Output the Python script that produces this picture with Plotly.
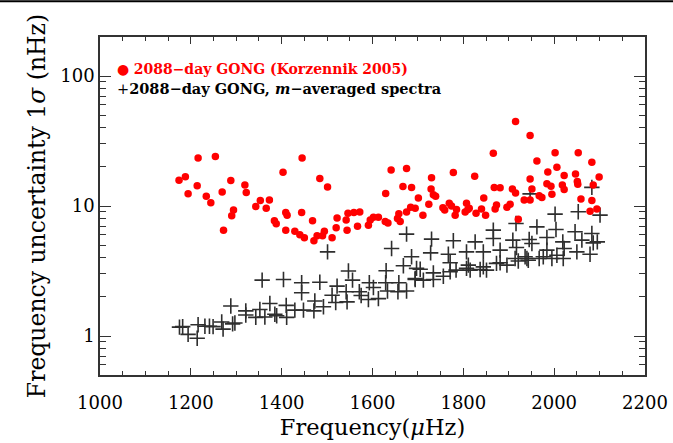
import plotly.graph_objects as go

# Red: 2088-day GONG (Korzennik 2005)
red_freq = [1174, 1188, 1194, 1216, 1214, 1234, 1244, 1254, 1269, 1272,
            1288, 1294, 1290, 1319, 1322, 1343, 1353, 1366, 1373, 1384,
            1388, 1403, 1409, 1412, 1409, 1429, 1440, 1450, 1445, 1444,
            1468, 1471, 1478, 1490, 1494, 1484, 1501, 1511, 1520, 1522,
            1544, 1542, 1546, 1559, 1572, 1567, 1591, 1595, 1602, 1613,
            1628, 1634, 1629, 1641, 1655, 1658, 1661, 1675, 1667, 1686,
            1675, 1684, 1694, 1701, 1915, 1947, 1866, 2002, 2053, 2083,
            1962, 1986, 2006, 2022, 2047, 2099, 1778, 1825, 1730, 1947,
            1729, 1734, 1739, 1724, 1711, 1755, 1759, 1769, 1774, 1785,
            1782, 1807, 1810, 1813, 1804, 1828, 1840, 1845, 1849, 1868,
            1881, 1870, 1873, 1896, 1903, 1908, 1915, 1934, 1947, 1951,
            1967, 1973, 1921, 1984, 1993, 1995, 2018, 2022, 2051, 2052,
            2086, 2059, 2083, 2079, 2094]
red_sigma = [15.8, 16.8, 12.4, 23.4, 14.3, 11.9, 10.6, 24.0, 12.8, 6.5,
             15.7, 9.3, 8.4, 14.5, 12.7, 9.9, 11.0, 9.6, 11.1, 7.7,
             7.3, 18.2, 8.9, 8.5, 6.5, 6.4, 6.0, 5.7, 23.4, 8.9,
             7.7, 5.4, 5.9, 5.9, 6.4, 16.3, 14.0, 5.7, 6.8, 8.1,
             6.5, 7.8, 8.8, 8.9, 9.0, 7.0, 7.1, 7.8, 8.2, 8.2,
             7.6, 7.4, 12.5, 18.9, 8.0, 8.7, 7.6, 19.4, 14.1, 13.9,
             9.0, 9.8, 9.6, 11.5, 44.7, 34.9, 25.5, 25.7, 25.7, 21.7,
             22.2, 18.3, 19.9, 17.2, 17.6, 16.7, 18.1, 16.9, 16.5, 16.1,
             13.5, 12.2, 11.9, 10.3, 8.5, 9.7, 9.3, 10.5, 10.0, 9.4,
             8.5, 10.5, 9.4, 9.6, 9.0, 8.8, 9.5, 11.5, 8.5, 13.9,
             13.8, 9.5, 10.2, 9.8, 10.3, 13.5, 12.6, 11.1, 11.1, 13.5,
             12.0, 11.6, 7.9, 14.8, 14.2, 12.3, 14.5, 13.4, 15.4, 14.7,
             14.5, 11.3, 11.0, 9.1, 9.5]

# Black: 2088-day GONG, m-averaged spectra
blk_freq = [1175, 1182, 1194, 1214, 1216, 1231, 1241, 1249, 1268, 1271,
            1288, 1292, 1297, 1321, 1321, 1343, 1352, 1357, 1363, 1374,
            1385, 1389, 1404, 1410, 1411, 1429, 1444, 1444, 1448, 1471,
            1473, 1484, 1492, 1501, 1511, 1519, 1522, 1542, 1544, 1547,
            1556, 1571, 1575, 1591, 1593, 1602, 1613, 1629, 1630, 1633,
            1642, 1656, 1658, 1668, 1675, 1675, 1686, 1697, 1694, 1730,
            1728, 1705, 1734, 1734, 1756, 1767, 1771, 1778, 1784, 1807,
            1811, 1815, 1826, 1837, 1844, 1851, 1866, 1866, 1873, 1881,
            1896, 1909, 1916, 1917, 1921, 1936, 1945, 1951, 1943, 1962,
            1967, 1984, 1984, 1995, 2002, 2004, 2019, 2022, 2020, 2046,
            2053, 2061, 2050, 2083, 2095, 2079, 2101, 2086, 1947, 2083,
            1694, 1712, 1771, 1807, 1844, 1881, 1914, 1940, 1976, 2006]
blk_sigma = [1.17, 1.18, 1.03, 0.96, 1.22, 1.19, 1.19, 1.18, 1.28, 1.13,
             1.70, 1.24, 1.26, 1.56, 1.45, 1.39, 1.60, 2.69, 1.40, 1.78,
             1.47, 1.43, 2.72, 1.72, 1.39, 1.58, 2.57, 2.15, 1.58, 1.56,
             1.86, 2.59, 1.68, 4.44, 2.06, 1.81, 2.42, 2.19, 1.83, 3.16,
             2.69, 2.19, 2.05, 1.91, 2.57, 2.36, 1.94, 2.57, 3.18, 2.22,
             4.71, 2.19, 2.57, 3.47, 2.22, 6.08, 4.07, 3.31, 2.72, 5.56,
             4.36, 3.26, 3.06, 2.72, 2.88, 4.26, 3.66, 5.40, 3.21, 4.44,
             3.51, 3.21, 5.30, 3.25, 4.44, 3.21, 6.52, 5.63, 3.62, 4.58,
             3.51, 5.46, 7.34, 4.80, 3.78, 4.07, 5.53, 5.15, 3.83, 6.91,
             3.95, 5.73, 4.58, 3.95, 8.66, 6.60, 5.30, 4.71, 3.95, 6.33,
             9.02, 5.46, 4.44, 6.15, 5.30, 4.26, 8.51, 5.20, 12.4, 13.9,
             2.77, 2.69, 3.12, 3.31, 3.40, 3.66, 3.95, 3.95, 4.07, 4.18]

x_ticks = [1000, 1200, 1400, 1600, 1800, 2000, 2200]
y_ticks = [1, 10, 100]
y_minor = [0.6, 0.7, 0.8, 0.9, 2, 3, 4, 5, 6, 7, 8, 9,
           20, 30, 40, 50, 60, 70, 80, 90]

SERIF = "DejaVu Serif"

fig = go.Figure()
fig.add_trace(go.Scatter(
    x=blk_freq, y=blk_sigma, mode="markers",
    marker=dict(symbol="cross-thin", size=11, color="#222",
                line=dict(width=1.6, color="#2e2e2e")),
    name="2088-day GONG, m-averaged spectra", showlegend=False))
fig.add_trace(go.Scatter(
    x=red_freq, y=red_sigma, mode="markers",
    marker=dict(symbol="circle", size=7.5, color="#ff0000", line=dict(width=0)),
    name="2088-day GONG (Korzennik 2005)", showlegend=False))

fig.update_layout(
    width=673, height=443,
    margin=dict(l=100, r=28, t=37, b=68),
    paper_bgcolor="white", plot_bgcolor="white",
    font=dict(family=SERIF, color="black"),
    xaxis=dict(
        range=[1000, 2200], tickvals=x_ticks, ticktext=[str(v) for v in x_ticks],
        ticks="inside", ticklen=7, tickwidth=1.2, tickcolor="#333",
        showline=True, linecolor="#333", linewidth=1.5, mirror="ticks",
        showgrid=False, zeroline=False, ticklabelstandoff=11, automargin=False,
        tickfont=dict(size=18, family=SERIF),
        minor=dict(dtick=50, ticks="inside", ticklen=4, tickwidth=1, tickcolor="#333", showgrid=False),
        title=dict(text="Frequency(<i>μ</i>Hz)", font=dict(size=22.5, family=SERIF), standoff=7),
    ),
    yaxis=dict(
        type="log", range=[-0.3, 2.3], tickvals=y_ticks, ticktext=["1", "10", "100"],
        ticks="inside", ticklen=11, tickwidth=1.2, tickcolor="#333",
        showline=True, linecolor="#333", linewidth=1.5, mirror="ticks",
        showgrid=False, zeroline=False, automargin=False,
        tickfont=dict(size=18, family=SERIF),
        minor=dict(tickvals=y_minor, ticks="inside", ticklen=6, tickwidth=1, tickcolor="#333", showgrid=False),
        title=dict(text="Frequency uncertainty 1<i>σ</i> (nHz)", font=dict(size=23.5, family=SERIF), standoff=8),
    ),
    annotations=[
        dict(xref="paper", yref="paper", x=0.028, y=0.905, xanchor="left", yanchor="middle",
             showarrow=False, font=dict(size=14, family=SERIF, color="#ff0000"),
             text="<b>●</b> <b>2088−day GONG (Korzennik 2005)</b>"),
        dict(xref="paper", yref="paper", x=0.028, y=0.847, xanchor="left", yanchor="middle",
             showarrow=False, font=dict(size=14.5, family=SERIF, color="black"),
             text="+<b>2088−day GONG, <i>m</i>−averaged spectra</b>"),
    ],
    shapes=[dict(type="line", xref="paper", yref="paper",
                 x0=-0.2, x1=1.1, y0=1.106, y1=1.106, line=dict(color="black", width=2))],
)

fig.write_html("out.html")
